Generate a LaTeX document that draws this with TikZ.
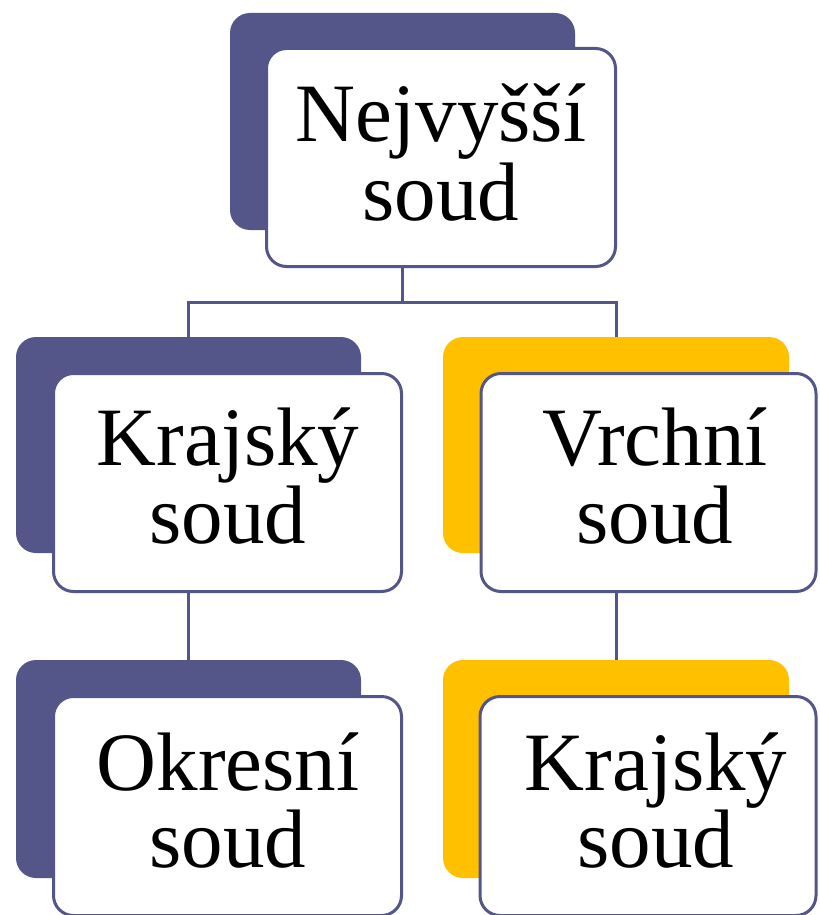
\documentclass[tikz,border=0pt]{standalone}
\usepackage{fontspec}
\setmainfont{Liberation Serif}
\definecolor{courtpurple}{RGB}{84,86,138}
\definecolor{courtyellow}{RGB}{255,192,0}
\newcommand\courtfont{\fontsize{83}{78}\selectfont}
\tikzset{
  backpurple/.style={rectangle, fill=courtpurple, rounded corners=20pt, inner sep=0pt},
  backyellow/.style={rectangle, fill=courtyellow, rounded corners=20pt, inner sep=0pt},
  frontbox/.style={rectangle, draw=courtpurple, line width=3pt, fill=white, rounded corners=20pt, inner sep=0pt},
  courttext/.style={anchor=base, font=\courtfont, inner sep=0pt, text=black},
  link/.style={draw=courtpurple, line width=3pt}
}
\begin{document}
\begin{tikzpicture}[x=1pt,y=-1pt]
\useasboundingbox (0,0) rectangle (819,915);
\clip (0,0) rectangle (819,915);
\fill[white] (0,0) rectangle (819,915);

% back shapes
\node[backpurple, minimum width=345pt, minimum height=217pt] (backT) at (402.5,121.5) {};
\node[backpurple, minimum width=345pt, minimum height=216pt] (backL) at (188.5,445) {};
\node[backyellow, minimum width=346pt, minimum height=216pt] (backR) at (616,445) {};
\node[backpurple, minimum width=345pt, minimum height=218pt] (backLL) at (188.5,769) {};
\node[backyellow, minimum width=346pt, minimum height=218pt] (backRR) at (616,769) {};

% connectors
\coordinate (jT) at (402.5,302);
\draw[link] (backT.south) -- (jT);
\draw[link] (backL.north) -- (backL.north |- jT) -- (backR.north |- jT) -- (backR.north);

% front boxes
\node[frontbox, minimum width=349pt, minimum height=218pt] (frontT) at (441,157.5) {};
\node[frontbox, minimum width=348pt, minimum height=218pt] (frontL) at (227.5,482.5) {};
\node[frontbox, minimum width=335pt, minimum height=218pt] (frontR) at (648.5,482.5) {};
\node[frontbox, minimum width=348pt, minimum height=219pt] (frontLL) at (227.5,806) {};
\node[frontbox, minimum width=336pt, minimum height=219pt] (frontRR) at (648,806) {};

\draw[link] (frontT.south -| backT.south) -- (jT);
\draw[link] (frontL.south -| backL.south) -- (backLL.north);
\draw[link] (frontR.south -| backR.south) -- (backRR.north);

% texts
\node[courttext] (tT1) at (441,142) {Nejvyšší};
\node[courttext] (tT2) at (441,220) {soud};
\node[courttext] (tL1) at (228,465) {Krajský};
\node[courttext] (tL2) at (228,543) {soud};
\node[courttext] (tR1) at (655,465) {Vrchní};
\node[courttext] (tR2) at (655,543) {soud};
\node[courttext] (tLL1) at (228,790) {Okresní};
\node[courttext] (tLL2) at (228,867) {soud};
\node[courttext] (tRR1) at (656,790) {Krajský};
\node[courttext] (tRR2) at (656,867) {soud};
\end{tikzpicture}
\end{document}
